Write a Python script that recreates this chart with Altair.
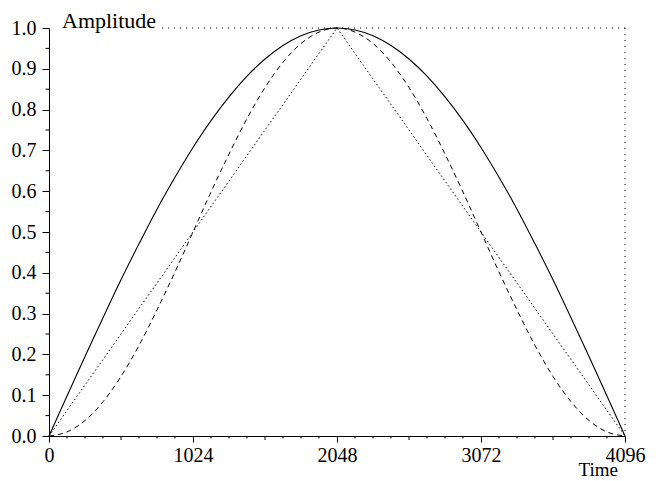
import altair as alt
import pandas as pd

# sample positions (time)
time = [0, 128, 256, 384, 512, 640, 768, 896, 1024, 1152, 1280, 1408, 1536, 1664, 1792, 1920, 2048,
        2176, 2304, 2432, 2560, 2688, 2816, 2944, 3072, 3200, 3328, 3456, 3584, 3712, 3840, 3968, 4096]
# solid curve
solid = [0.0, 0.098, 0.195, 0.290, 0.383, 0.471, 0.556, 0.634, 0.707, 0.773, 0.831, 0.882, 0.924, 0.957, 0.981, 0.995, 1.0,
         0.995, 0.981, 0.957, 0.924, 0.882, 0.831, 0.773, 0.707, 0.634, 0.556, 0.471, 0.383, 0.290, 0.195, 0.098, 0.0]
# dashed curve
dashed = [0.0, 0.010, 0.038, 0.084, 0.146, 0.222, 0.309, 0.402, 0.5, 0.598, 0.691, 0.778, 0.854, 0.916, 0.962, 0.990, 1.0,
          0.990, 0.962, 0.916, 0.854, 0.778, 0.691, 0.598, 0.5, 0.402, 0.309, 0.222, 0.146, 0.084, 0.038, 0.010, 0.0]
# dotted curve
dotted_time = [0, 2048, 4096]
dotted = [0.0, 1.0, 0.0]

x_major = [0, 1024, 2048, 3072, 4096]
x_mid = [512, 1536, 2560, 3584]
x_minor = [128, 256, 384, 640, 768, 896, 1152, 1280, 1408, 1664, 1792, 1920,
           2176, 2304, 2432, 2688, 2816, 2944, 3200, 3328, 3456, 3712, 3840, 3968]
y_major = [0.0, 0.1, 0.2, 0.3, 0.4, 0.5, 0.6, 0.7, 0.8, 0.9, 1.0]
y_minor = [0.05, 0.15, 0.25, 0.35, 0.45, 0.55, 0.65, 0.75, 0.85, 0.95]

FONT = "Liberation Serif"
W, H = 576, 408

xs = alt.Scale(domain=[0, 4096], nice=False, zero=False)
ys = alt.Scale(domain=[0, 1], nice=False, zero=False)

df_solid = pd.DataFrame({"t": time, "v": solid})
df_dashed = pd.DataFrame({"t": time, "v": dashed})
df_dotted = pd.DataFrame({"t": dotted_time, "v": dotted})

xax = alt.Axis(values=x_major, format="d", labelFont=FONT, labelFontSize=20, labelColor="black",
               tickSize=6, tickColor="black", domainColor="black", grid=False, title=None,
               labelPadding=3, labelFlush=False)
yax = alt.Axis(values=y_major, format=".1f", labelFont=FONT, labelFontSize=20, labelColor="black",
               tickSize=7, tickColor="black", domainColor="black", grid=False, title=None,
               labelPadding=6)

base_solid = alt.Chart(df_solid).mark_line(color="black", strokeWidth=1.1, interpolate="monotone").encode(
    x=alt.X("t:Q", scale=xs, axis=xax),
    y=alt.Y("v:Q", scale=ys, axis=yax),
)
l_dashed = alt.Chart(df_dashed).mark_line(color="black", strokeWidth=1, strokeDash=[5, 4], interpolate="monotone").encode(
    x=alt.X("t:Q", scale=xs), y=alt.Y("v:Q", scale=ys))
l_dotted = alt.Chart(df_dotted).mark_line(color="black", strokeWidth=1, strokeDash=[1.5, 2.5]).encode(
    x=alt.X("t:Q", scale=xs), y=alt.Y("v:Q", scale=ys))

# minor ticks on x axis
t_mid = alt.Chart(pd.DataFrame({"t": x_mid})).mark_rule(color="black", strokeWidth=1).encode(
    x=alt.X("t:Q", scale=xs), y=alt.value(H), y2=alt.value(H + 4))
t_minor = alt.Chart(pd.DataFrame({"t": x_minor})).mark_rule(color="black", strokeWidth=1).encode(
    x=alt.X("t:Q", scale=xs), y=alt.value(H), y2=alt.value(H + 2.5))
# minor ticks on y axis
ty_minor = alt.Chart(pd.DataFrame({"v": y_minor})).mark_rule(color="black", strokeWidth=1).encode(
    y=alt.Y("v:Q", scale=ys), x=alt.value(-3.5), x2=alt.value(0))

# dotted frame (top and right)
frame_top = alt.Chart(pd.DataFrame({"a": [0]})).mark_rule(color="black", strokeWidth=1, strokeDash=[1, 5]).encode(
    x=alt.value(113), x2=alt.value(W), y=alt.value(0))
frame_right = alt.Chart(pd.DataFrame({"a": [0]})).mark_rule(color="black", strokeWidth=1, strokeDash=[1, 5]).encode(
    x=alt.value(W), y=alt.value(0), y2=alt.value(H))

# axis titles
amp = alt.Chart(pd.DataFrame({"s": ["Amplitude"]})).mark_text(
    font=FONT, fontSize=22, align="left", baseline="alphabetic", color="black").encode(
    text="s:N", x=alt.value(13), y=alt.value(0))
tim = alt.Chart(pd.DataFrame({"s": ["Time"]})).mark_text(
    font=FONT, fontSize=19, align="right", baseline="alphabetic", color="black").encode(
    text="s:N", x=alt.value(W - 7), y=alt.value(H + 40))

chart = alt.layer(base_solid, l_dashed, l_dotted, t_mid, t_minor, ty_minor,
                  frame_top, frame_right, amp, tim).properties(
    width=W, height=H,
    autosize=alt.AutoSizeParams(type="none"),
    padding={"left": 49, "top": 28, "right": 34, "bottom": 45},
    background="white",
).configure_view(stroke=None)

chart.save("out.html", embed_options={"renderer": "svg", "actions": False})
